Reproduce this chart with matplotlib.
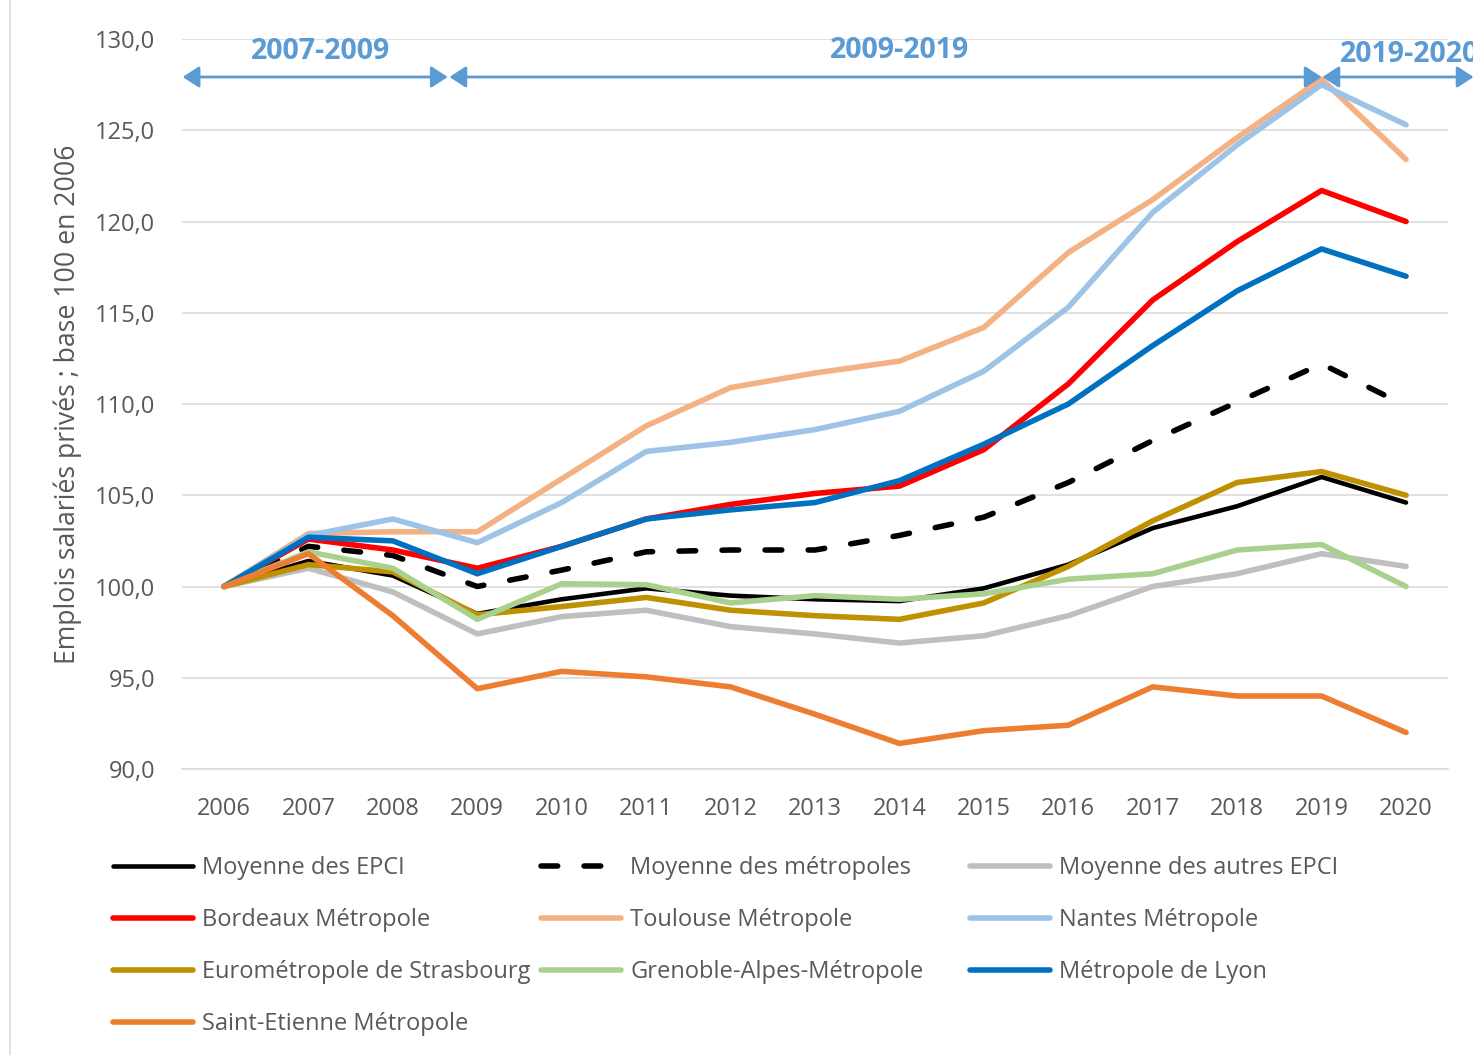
import matplotlib
matplotlib.use("Agg")
import matplotlib.pyplot as plt
from matplotlib.lines import Line2D
from matplotlib.ticker import FuncFormatter

plt.rcParams['font.family'] = ['Open Sans', 'DejaVu Sans']
plt.rcParams['lines.scale_dashes'] = False

years = list(range(2006, 2021))

moy_epci = [100.0, 101.4, 100.6, 98.5, 99.3, 99.9, 99.5, 99.3, 99.2, 99.9, 101.2, 103.2, 104.4, 106.0, 104.6]
moy_metropoles = [100.0, 102.2, 101.7, 100.0, 100.9, 101.9, 102.0, 102.0, 102.8, 103.8, 105.7, 108.0, 110.1, 112.2, 109.9]
moy_autres = [100.0, 101.0, 99.7, 97.4, 98.35, 98.7, 97.8, 97.4, 96.9, 97.3, 98.4, 100.0, 100.7, 101.8, 101.1]
bordeaux = [100.0, 102.6, 102.0, 101.0, 102.2, 103.7, 104.5, 105.1, 105.5, 107.5, 111.1, 115.7, 118.9, 121.7, 120.0]
toulouse = [100.0, 102.9, 103.0, 103.0, 105.9, 108.8, 110.9, 111.7, 112.35, 114.2, 118.3, 121.2, 124.6, 127.8, 123.4]
nantes = [100.0, 102.8, 103.7, 102.4, 104.6, 107.4, 107.9, 108.6, 109.6, 111.8, 115.3, 120.5, 124.2, 127.5, 125.3]
strasbourg = [100.0, 101.2, 100.8, 98.45, 98.9, 99.4, 98.7, 98.4, 98.2, 99.1, 101.1, 103.6, 105.7, 106.3, 105.0]
grenoble = [100.0, 101.9, 101.0, 98.2, 100.15, 100.1, 99.1, 99.5, 99.3, 99.6, 100.4, 100.7, 102.0, 102.3, 100.0]
lyon = [100.0, 102.7, 102.5, 100.7, 102.2, 103.7, 104.2, 104.6, 105.8, 107.8, 110.0, 113.2, 116.2, 118.5, 117.0]
saint_etienne = [100.0, 101.8, 98.4, 94.4, 95.35, 95.05, 94.5, 93.0, 91.4, 92.1, 92.4, 94.5, 94.0, 94.0, 92.0]

# periods shown above the plot: (start, end, label)
periods = [(2005.51, 2008.65, "2007-2009"),
           (2008.67, 2019.0, "2009-2019"),
           (2019.01, 2020.8, "2019-2020")]

series = [
    ("Moyenne des EPCI", moy_epci, "#000000", "-", 3.3),
    ("Moyenne des métropoles", moy_metropoles, "#000000", "--", 4.0),
    ("Moyenne des autres EPCI", moy_autres, "#bfbfbf", "-", 4.0),
    ("Bordeaux Métropole", bordeaux, "#ff0000", "-", 4.0),
    ("Toulouse Métropole", toulouse, "#f4b183", "-", 4.0),
    ("Nantes Métropole", nantes, "#9dc3e6", "-", 4.0),
    ("Eurométropole de Strasbourg", strasbourg, "#bf9000", "-", 4.0),
    ("Grenoble-Alpes-Métropole", grenoble, "#a9d18e", "-", 4.0),
    ("Métropole de Lyon", lyon, "#0070c0", "-", 4.0),
    ("Saint-Etienne Métropole", saint_etienne, "#ed7d31", "-", 4.0),
]

grey_txt = "#595959"
blue_txt = "#5b9bd5"

fig = plt.figure(figsize=(14.73, 10.55), dpi=100)
ax = fig.add_axes([0.1234, 0.2711, 0.8598, 0.6919])

handles = []
for label, vals, color, ls, lw in series:
    if ls == "--":
        ln, = ax.plot(years, vals, color=color, lw=lw, dashes=(12, 19),
                      dash_capstyle="round", label=label)
    else:
        ln, = ax.plot(years, vals, color=color, lw=lw, solid_capstyle="round",
                      solid_joinstyle="round", label=label)
    handles.append(ln)

ax.set_xlim(2005.5, 2020.5)
ax.set_ylim(90, 130)
ax.set_xticks(years)
ax.set_yticks(range(90, 131, 5))
ax.yaxis.set_major_formatter(FuncFormatter(lambda v, p: f"{v:.1f}".replace(".", ",")))
ax.tick_params(length=0, labelsize=17, labelcolor=grey_txt)
ax.tick_params(axis="x", pad=20)
ax.tick_params(axis="y", pad=19)
ax.grid(axis="y", color="#d9d9d9", lw=1.1)
ax.set_axisbelow(True)
for side in ("left", "right", "top"):
    ax.spines[side].set_visible(False)
ax.spines["bottom"].set_color("#d9d9d9")
ax.spines["bottom"].set_linewidth(1.1)

fig.text(68 / 1473, 1 - 404 / 1055, "Emplois salariés privés ; base 100 en 2006",
         rotation=90, ha="center", va="center", fontsize=19.2, color=grey_txt)

# period arrows and labels
for x0, x1, text in periods:
    ax.annotate("", xy=(x1, 127.92), xytext=(x0, 127.92),
                arrowprops=dict(arrowstyle="<|-|>,head_length=0.4,head_width=0.26",
                                color=blue_txt, lw=2, mutation_scale=25,
                                shrinkA=0, shrinkB=0),
                annotation_clip=False)
ax.text(2007.14, 129.3, periods[0][2], ha="center", va="center",
        fontsize=20.5, fontweight="bold", color=blue_txt)
ax.text(2014.0, 129.35, periods[1][2], ha="center", va="center",
        fontsize=20.5, fontweight="bold", color=blue_txt)
ax.text(2019.22, 129.15, periods[2][2], ha="left", va="center",
        fontsize=20.5, fontweight="bold", color=blue_txt, clip_on=False)

# legend, three columns filled row by row
columns = [handles[0::3], handles[1::3], handles[2::3]]
col_x = [113, 541, 970]
for hs, cx in zip(columns, col_x):
    fig.legend(handles=hs, labels=[h.get_label() for h in hs],
               loc="upper left", bbox_to_anchor=(cx / 1473, 1 - 856 / 1055),
               frameon=False, fontsize=17, labelcolor=grey_txt,
               handlelength=3.39, handletextpad=0.38, labelspacing=1.19,
               borderpad=0, borderaxespad=0)

# chart border on the left
fig.add_artist(Line2D([10 / 1473, 10 / 1473], [0, 1], color="#d9d9d9", lw=1.1))

fig.savefig("out.png", dpi=100)
